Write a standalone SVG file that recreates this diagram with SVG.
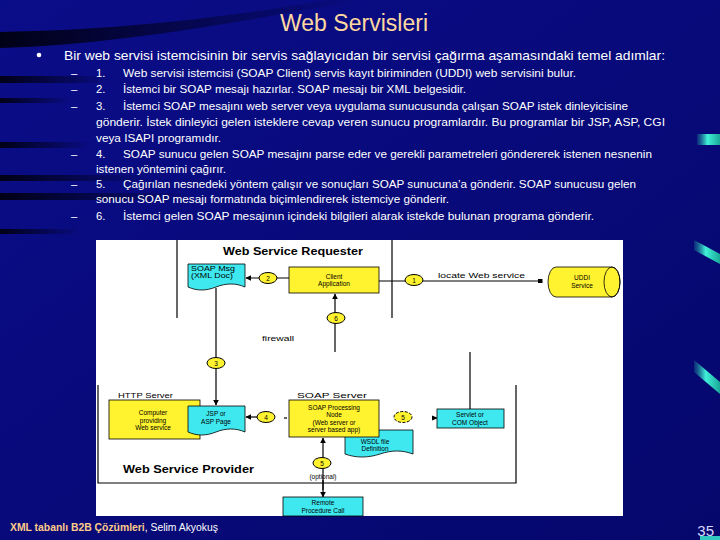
<svg xmlns="http://www.w3.org/2000/svg" width="720" height="540" viewBox="0 0 720 540">
<defs>
  <linearGradient id="bg" x1="0" y1="0" x2="1" y2="1">
    <stop offset="0" stop-color="#0a0d88"/>
    <stop offset="1" stop-color="#05076c"/>
  </linearGradient>
  <linearGradient id="streak" x1="0" y1="0" x2="1" y2="0">
    <stop offset="0" stop-color="#000010" stop-opacity="0.95"/>
    <stop offset="1" stop-color="#000010" stop-opacity="0"/>
  </linearGradient>
  <linearGradient id="teal" x1="0" y1="0" x2="1" y2="0">
    <stop offset="0" stop-color="#20a8a0" stop-opacity="0.2"/>
    <stop offset="0.45" stop-color="#40f0d8"/>
    <stop offset="1" stop-color="#1aa898"/>
  </linearGradient>
  <marker id="ah" viewBox="0 0 10 10" refX="9" refY="5" markerWidth="6" markerHeight="6" orient="auto-start-reverse" markerUnits="userSpaceOnUse">
    <path d="M0,0 L10,5 L0,10 z" fill="#000"/>
  </marker>
  <marker id="sq" viewBox="0 0 10 10" refX="9" refY="5" markerWidth="5" markerHeight="5" orient="auto" markerUnits="userSpaceOnUse">
    <rect x="0" y="1" width="10" height="8" fill="#000"/>
  </marker>
  <style>
    .f{font-family:"Liberation Sans",Arial,sans-serif}
    .w{fill:#ffffff;font-size:11.3px}
    .d{font-family:"Liberation Sans",Arial,sans-serif;font-size:6.5px;fill:#000}
    .c{text-anchor:middle}
    .yel{fill:#fff22e;stroke:#000;stroke-width:0.8}
    .cy{fill:#3fe8ef;stroke:#000;stroke-width:0.8}
    .ln{stroke:#000;stroke-width:1.2;fill:none}
    .circ{fill:#fff22e;stroke:#000;stroke-width:1}
  </style>
</defs>

<!-- background -->
<rect x="0" y="0" width="720" height="540" fill="url(#bg)"/>
<path d="M0,32 C120,30 220,18 330,0 L360,0 C240,22 120,44 0,48 Z" fill="url(#streak)"/>
<rect x="0" y="76" width="110" height="7" fill="url(#streak)"/>
<rect x="0" y="98" width="70" height="5" fill="url(#streak)"/>
<rect x="0" y="142" width="90" height="6" fill="url(#streak)"/>
<rect x="0" y="175" width="150" height="6" fill="url(#streak)"/>
<rect x="0" y="193" width="190" height="7" fill="url(#streak)"/>
<rect x="0" y="229" width="80" height="5" fill="url(#streak)"/>
<rect x="697" y="134" width="23" height="11" fill="url(#teal)"/>
<path d="M694,240 L720,254 L720,264 L694,250 Z" fill="url(#teal)"/>
<path d="M694,360 L720,382 L720,394 L694,372 Z" fill="url(#teal)"/>
<rect x="700" y="536" width="20" height="4" fill="#30c8c0"/>

<!-- title and text -->
<text class="f" x="354" y="31" font-size="23" fill="#ffd8a0" text-anchor="middle" textLength="148" lengthAdjust="spacingAndGlyphs">Web Servisleri</text>
<circle cx="39" cy="55" r="2.3" fill="#fff"/>
<text class="f" x="64" y="60" font-size="13.5" fill="#fff" textLength="601" lengthAdjust="spacingAndGlyphs">Bir web servisi istemcisinin bir servis sağlayıcıdan bir servisi çağırma aşamasındaki temel adımlar:</text>

<g class="f w">
  <text x="71" y="77">–</text><text x="96" y="77">1.</text>
  <text x="123" y="77" textLength="453" lengthAdjust="spacingAndGlyphs">Web servisi istemcisi (SOAP Client) servis kayıt biriminden (UDDI) web servisini bulur.</text>
  <text x="71" y="93">–</text><text x="96" y="93">2.</text>
  <text x="123" y="93" textLength="343" lengthAdjust="spacingAndGlyphs">İstemci bir SOAP mesajı hazırlar. SOAP mesajı bir XML belgesidir.</text>
  <text x="71" y="110">–</text><text x="96" y="110">3.</text>
  <text x="123" y="110" textLength="505" lengthAdjust="spacingAndGlyphs">İstemci SOAP mesajını web server veya uygulama sunucusunda çalışan SOAP istek dinleyicisine</text>
  <text x="96" y="126" textLength="569" lengthAdjust="spacingAndGlyphs">gönderir. İstek dinleyici gelen isteklere cevap veren sunucu programlardır.  Bu programlar bir JSP, ASP, CGI</text>
  <text x="96" y="142" textLength="125" lengthAdjust="spacingAndGlyphs">veya ISAPI programıdır.</text>
  <text x="71" y="158">–</text><text x="96" y="158">4.</text>
  <text x="123" y="158" textLength="529" lengthAdjust="spacingAndGlyphs">SOAP sunucu gelen SOAP mesajını parse eder ve gerekli parametreleri göndererek istenen nesnenin</text>
  <text x="96" y="173" textLength="130" lengthAdjust="spacingAndGlyphs">istenen yöntemini çağırır.</text>
  <text x="71" y="188">–</text><text x="96" y="188">5.</text>
  <text x="123" y="188" textLength="513" lengthAdjust="spacingAndGlyphs">Çağırılan nesnedeki yöntem çalışır ve sonuçları SOAP sunucuna’a gönderir. SOAP sunucusu gelen</text>
  <text x="96" y="203" textLength="353" lengthAdjust="spacingAndGlyphs">sonucu SOAP mesajı formatında biçimlendirerek istemciye gönderir.</text>
  <text x="71" y="220">–</text><text x="96" y="220">6.</text>
  <text x="123" y="220" textLength="471" lengthAdjust="spacingAndGlyphs">İstemci gelen SOAP mesajının içindeki bilgileri alarak istekde bulunan programa gönderir.</text>
</g>

<!-- diagram canvas -->
<rect x="96" y="240" width="527" height="276" fill="#fff"/>

<!-- containers -->
<g id="requester">
  <line class="ln" x1="177" y1="240" x2="177" y2="318" stroke-width="1"/>
  <line class="ln" x1="392" y1="240" x2="392" y2="318" stroke-width="1"/>
  <text class="f" x="223" y="255" font-size="10" font-weight="bold" fill="#000" textLength="140" lengthAdjust="spacingAndGlyphs">Web Service Requester</text>
</g>
<g id="provider">
  <path class="ln" d="M98,385 V483 H516 V385" stroke-width="1"/>
  <text class="f" x="123" y="473" font-size="10" font-weight="bold" fill="#000" textLength="131" lengthAdjust="spacingAndGlyphs">Web Service Provider</text>
  <text class="d" x="118" y="398" font-size="9" textLength="55" lengthAdjust="spacingAndGlyphs">HTTP Server</text>
  <text class="d" x="297" y="398" font-size="9" textLength="70" lengthAdjust="spacingAndGlyphs">SOAP Server</text>
</g>
<text class="d" x="262" y="341" font-size="8.5" textLength="32" lengthAdjust="spacingAndGlyphs">firewall</text>

<!-- connectors -->
<g id="connectors">
  <line class="ln" x1="289" y1="278" x2="246" y2="278" marker-end="url(#ah)"/>
  <line class="ln" x1="379" y1="281" x2="542" y2="281" marker-end="url(#sq)"/>
  <text class="d" x="438" y="278" font-size="7.5" textLength="87" lengthAdjust="spacingAndGlyphs">locate Web service</text>
  <line class="ln" x1="335" y1="352" x2="335" y2="294" marker-end="url(#ah)"/>
  <line class="ln" x1="216" y1="288" x2="216" y2="405" marker-end="url(#ah)"/>
  <line class="ln" x1="470" y1="352" x2="470" y2="409"/>
  <line class="ln" x1="258" y1="417" x2="246" y2="417" marker-end="url(#ah)"/>
  <line class="ln" x1="284" y1="418" x2="287" y2="418"/>
  <path d="M432,415.5 L438,418 L432,420.5 Z" fill="#000"/>
  <line class="ln" x1="323" y1="490" x2="323" y2="438" marker-end="url(#ah)"/>
  <line class="ln" x1="323" y1="480" x2="323" y2="497" marker-end="url(#ah)"/>
</g>

<!-- nodes -->
<g id="soapmsg">
  <path class="cy" d="M188,264 H245 V287 C236,283 226,283 216,287 C206,291 197,291 188,287 Z"/>
  <text class="d" x="191" y="271" textLength="44" lengthAdjust="spacingAndGlyphs">SOAP Msg</text>
  <text class="d" x="191" y="278" textLength="42" lengthAdjust="spacingAndGlyphs">(XML Doc)</text>
</g>
<g id="client">
  <rect class="yel" x="289" y="267" width="90" height="26"/>
  <text class="d c" x="334" y="279">Client</text>
  <text class="d c" x="334" y="286">Application</text>
</g>
<g id="uddi">
  <path class="yel" d="M556,267 L612,267 A8,15 0 0 1 612,297 L556,297 A8,15 0 0 1 556,267 Z"/>
  <ellipse cx="612" cy="282" rx="8" ry="15" fill="none" stroke="#000" stroke-width="0.8"/>
  <text class="d c" x="582" y="280">UDDI</text>
  <text class="d c" x="582" y="288">Service</text>
</g>
<g id="computer">
  <rect class="yel" x="109" y="400" width="91" height="39"/>
  <text class="d c" x="153" y="415">Computer</text>
  <text class="d c" x="153" y="422.5">providing</text>
  <text class="d c" x="153" y="430">Web service</text>
</g>
<g id="jsp">
  <path class="cy" d="M188,406 H245 V432 C236,428 226,428 216,432 C206,436 197,436 188,432 Z"/>
  <text class="d c" x="216" y="416">JSP or</text>
  <text class="d c" x="216" y="424">ASP Page</text>
</g>
<g id="wsdl">
  <path class="cy" d="M345,430 H413 V454 C402,450 392,450 380,454 C368,458 356,458 345,454 Z"/>
  <text class="d c" x="375" y="444">WSDL file</text>
  <text class="d c" x="375" y="451">Definition</text>
</g>
<g id="soapnode">
  <rect class="yel" x="289" y="400" width="90" height="37"/>
  <text class="d c" x="334" y="410">SOAP Processing</text>
  <text class="d c" x="334" y="417">Node</text>
  <text class="d c" x="334" y="425">(Web server or</text>
  <text class="d c" x="334" y="432">server based app)</text>
</g>
<g id="servlet">
  <rect class="cy" x="437" y="409" width="67" height="19"/>
  <text class="d c" x="470" y="417">Servlet or</text>
  <text class="d c" x="470" y="425">COM Object</text>
</g>
<g id="remote">
  <rect class="cy" x="283" y="497" width="80" height="19"/>
  <text class="d c" x="323" y="505">Remote</text>
  <text class="d c" x="323" y="512.5">Procedure Call</text>
</g>

<!-- step markers -->
<g id="step1"><ellipse class="circ" cx="414" cy="280" rx="9" ry="5.5"/><text class="d c" x="414" y="282.5">1</text></g>
<g id="step2"><ellipse class="circ" cx="268" cy="278" rx="9" ry="5.5"/><text class="d c" x="268" y="280.5">2</text></g>
<g id="step3"><ellipse class="circ" cx="216" cy="363" rx="9" ry="5.5"/><text class="d c" x="216" y="365.5">3</text></g>
<g id="step4"><ellipse class="circ" cx="266" cy="417" rx="9" ry="5.5"/><text class="d c" x="266" y="419.5">4</text></g>
<g id="step5a"><ellipse class="circ" cx="403" cy="417" rx="9" ry="5.5" stroke-dasharray="3,1.5"/><text class="d c" x="403" y="419.5">5</text></g>
<g id="step5b"><ellipse class="circ" cx="322" cy="463" rx="9" ry="5.5"/><text class="d c" x="322" y="465.5">5</text>
  <text class="d c" x="323" y="479">(optional)</text></g>
<g id="step6"><ellipse class="circ" cx="336" cy="318" rx="9" ry="5.5"/><text class="d c" x="336" y="320.5">6</text></g>

<!-- footer -->
<text class="f" x="10" y="531" font-size="10.5" textLength="208" lengthAdjust="spacingAndGlyphs"><tspan font-weight="bold" fill="#ffcc88">XML tabanlı B2B Çözümleri</tspan><tspan fill="#ffffff">, Selim Akyokuş</tspan></text>
<text class="f" x="714" y="536" font-size="15" fill="#d8d8ff" text-anchor="end">35</text>
</svg>
